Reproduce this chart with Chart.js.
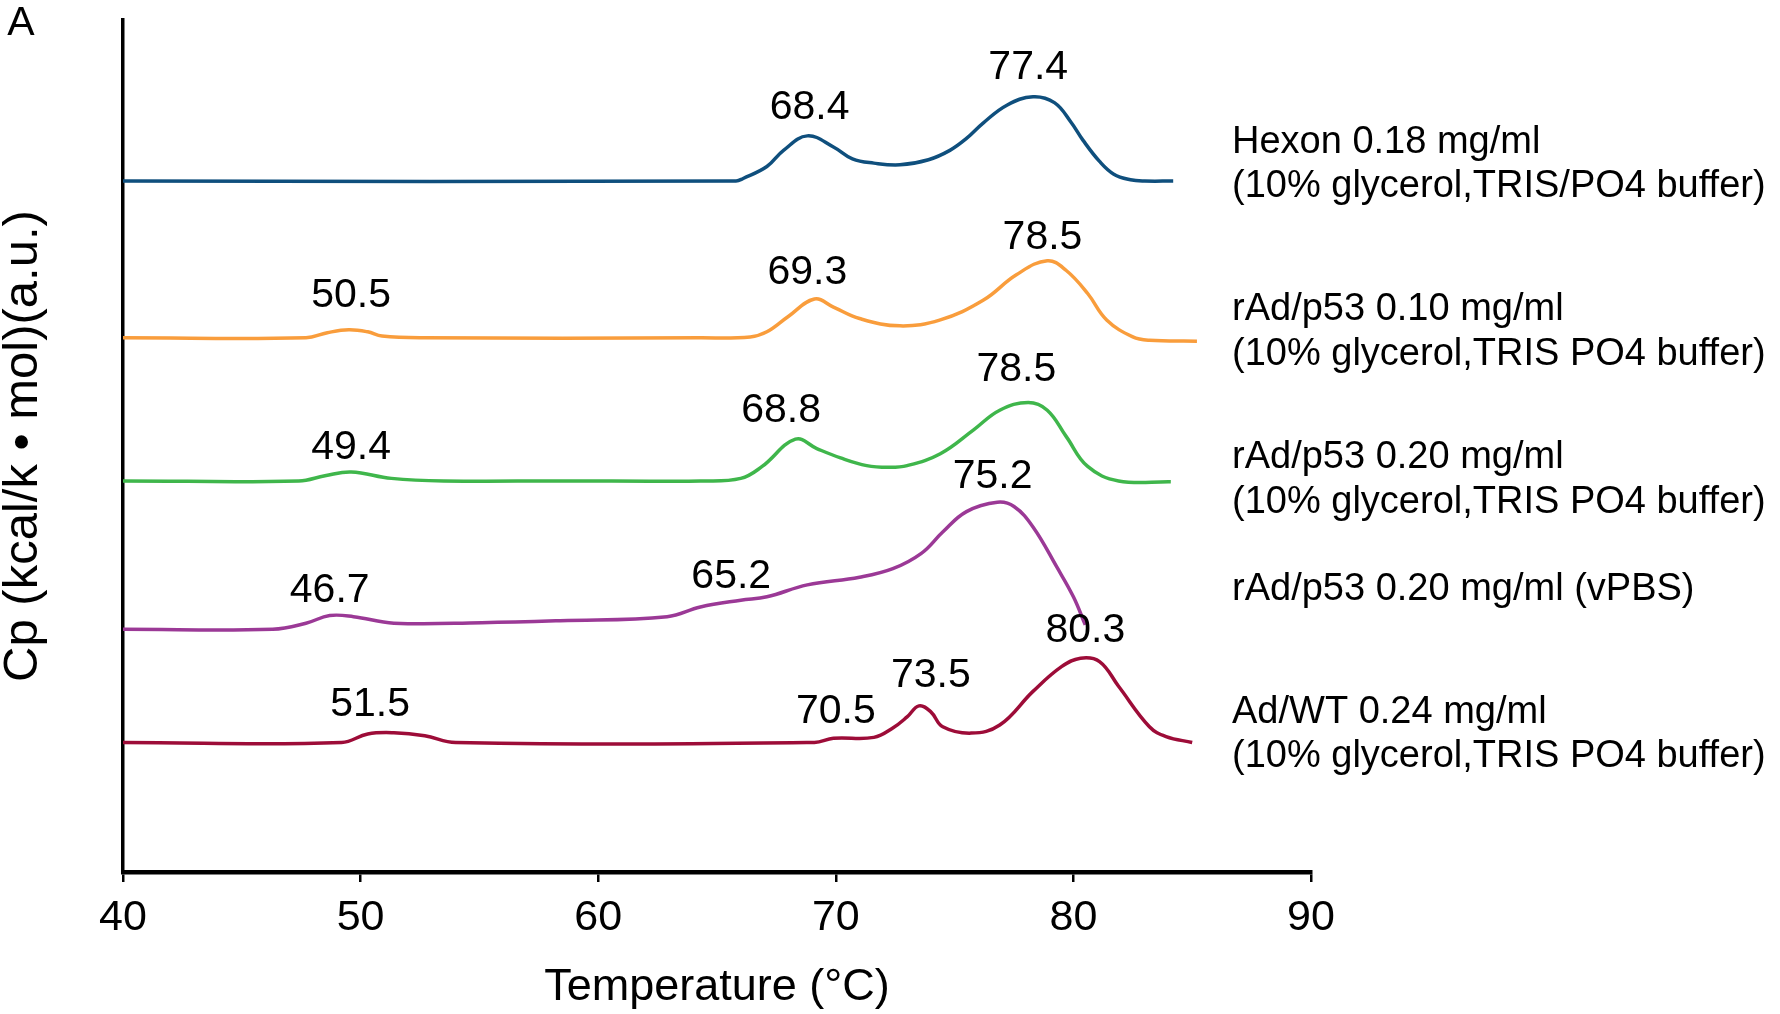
<!DOCTYPE html>
<html>
  <head>
    <meta charset="utf-8" />
    <title>DSC thermograms</title>
    <script src="https://cdn.jsdelivr.net/npm/chart.js@4.4.1/dist/chart.umd.min.js"></script>
    <style>
      html, body { margin: 0; padding: 0; background: #fff; }
      #wrap { width: 1780px; height: 1014px; position: relative; }
    </style>
  </head>
  <body>
    <div id="wrap"><canvas id="chart"></canvas></div>
    <script>
      // temperature (°C) and Cp (a.u., traces stacked with offsets)
      const hexonT = [40, 65.8, 66.1, 67.1, 67.8, 68.8, 69.9, 70.7, 71.6, 72.7, 73.9, 74.8, 75.5, 76.2, 77.2, 78.3, 79.2, 79.9, 80.4, 81.1, 81.7, 82.4, 83.0, 84.2];
      const hexonCp = [81.1, 81.1, 81.4, 82.8, 84.7, 86.4, 85.1, 83.7, 83.2, 83.0, 83.6, 84.7, 86.1, 87.9, 90.0, 91.0, 90.3, 88.0, 85.9, 83.4, 81.9, 81.25, 81.1, 81.1];

      const p53LowT = [40, 47.7, 48.6, 49.5, 50.3, 50.9, 52.7, 64.3, 66.4, 67.1, 68.0, 69.1, 69.9, 71.0, 72.7, 74.4, 76.2, 77.6, 78.9, 79.7, 80.6, 81.4, 82.5, 83.2, 85.2];
      const p53LowCp = [62.7, 62.7, 63.3, 63.65, 63.4, 62.9, 62.7, 62.7, 62.8, 63.4, 65.2, 67.25, 66.3, 64.96, 64.1, 64.8, 67.1, 70.1, 71.75, 70.6, 67.9, 64.8, 62.8, 62.4, 62.3];

      const p53HighT = [40, 47.4, 48.5, 49.6, 51.3, 53.5, 58.4, 64.3, 66.0, 66.9, 68.3, 69.2, 70.2, 71.3, 72.2, 73.0, 74.4, 75.8, 76.9, 78.1, 78.9, 79.7, 80.6, 81.9, 84.1];
      const p53HighCp = [45.9, 45.9, 46.5, 46.95, 46.2, 45.9, 45.9, 45.9, 46.2, 47.6, 50.8, 49.7, 48.6, 47.7, 47.5, 47.7, 49.1, 51.9, 54.2, 55.1, 54.2, 51.1, 47.6, 45.9, 45.8];

      const p53PbsT = [40, 46.3, 47.7, 48.7, 49.7, 51.4, 55.1, 58.4, 62.9, 64.3, 66.0, 67.1, 68.8, 71.0, 72.4, 73.6, 74.5, 75.5, 76.8, 77.5, 78.3, 79.3, 80.0, 80.5];
      const p53PbsCp = [28.5, 28.5, 29.2, 30.1, 29.97, 29.2, 29.26, 29.5, 29.97, 31.1, 31.9, 32.3, 33.7, 34.6, 35.6, 37.4, 39.9, 42.3, 43.4, 42.9, 40.5, 35.8, 32.3, 29.0];

      const adWtT = [40, 49.2, 50.3, 51.4, 52.7, 54.0, 69.1, 69.9, 71.6, 72.4, 73.0, 73.5, 74.0, 74.5, 75.7, 76.9, 78.3, 79.5, 80.3, 81.1, 81.9, 83.2, 83.9, 85.0];
      const adWtCp = [15.2, 15.2, 16.2, 16.35, 16.0, 15.2, 15.2, 15.7, 15.8, 16.9, 18.2, 19.5, 18.8, 17.05, 16.3, 17.25, 21.2, 24.1, 25.1, 24.7, 21.8, 17.05, 15.9, 15.2];

      const seriesNames = [
        ["Hexon 0.18 mg/ml", "(10% glycerol,TRIS/PO4 buffer)"],
        ["rAd/p53 0.10 mg/ml", "(10% glycerol,TRIS PO4 buffer)"],
        ["rAd/p53 0.20 mg/ml", "(10% glycerol,TRIS PO4 buffer)"],
        ["rAd/p53 0.20 mg/ml (vPBS)"],
        ["Ad/WT 0.24 mg/ml", "(10% glycerol,TRIS PO4 buffer)"],
      ];
      const seriesColors = ["#0f4f7d", "#f99d3c", "#3fb64b", "#9b3996", "#9d0c38"];

      // peak temperatures written on the plot, with their anchor in data units
      const peakText = ["68.4", "77.4", "50.5", "69.3", "78.5", "49.4", "68.8", "78.5", "46.7", "65.2", "75.2", "51.5", "70.5", "73.5", "80.3"];
      const peakAtT = [68.9, 78.1, 49.6, 68.8, 78.7, 49.6, 67.7, 77.6, 48.7, 65.6, 76.6, 50.4, 70.0, 74.0, 80.5];
      const peakAtCp = [89.7, 94.4, 67.6, 70.4, 74.4, 49.8, 54.2, 58.9, 33.0, 34.7, 46.4, 19.6, 18.8, 23.1, 28.3];

      const xTicks = [40, 50, 60, 70, 80, 90];

      const FONT = "'Liberation Sans', Arial, sans-serif";

      function toPoints(ts, cps) {
        return ts.map((t, i) => ({ x: t, y: cps[i] }));
      }

      const traces = [
        toPoints(hexonT, hexonCp),
        toPoints(p53LowT, p53LowCp),
        toPoints(p53HighT, p53HighCp),
        toPoints(p53PbsT, p53PbsCp),
        toPoints(adWtT, adWtCp),
      ];

      // legend rows sit at these heights (a.u.) to the right of the plot
      const legendRowCp = [[85.6, 80.4], [66.0, 60.7], [48.7, 43.4], [33.2], [18.7, 13.5]];

      const textPlugin = {
        id: "texts",
        afterDatasetsDraw(chart) {
          const { ctx, chartArea } = chart;
          const xs = chart.scales.x;
          const ys = chart.scales.y;
          ctx.save();
          ctx.fillStyle = "#000";
          ctx.textBaseline = "middle";

          ctx.font = "41px " + FONT;
          ctx.textAlign = "center";
          peakText.forEach((txt, i) => {
            ctx.fillText(txt, xs.getPixelForValue(peakAtT[i]), ys.getPixelForValue(peakAtCp[i]));
          });

          ctx.font = "38px " + FONT;
          ctx.textAlign = "left";
          const lx = chartArea.right - 79;
          seriesNames.forEach((lines, i) => {
            lines.forEach((line, j) => {
              ctx.fillText(line, lx, ys.getPixelForValue(legendRowCp[i][j]));
            });
          });

          ctx.font = "41px " + FONT;
          ctx.textAlign = "center";
          ctx.fillText("A", 21, 24);
          ctx.restore();
        },
      };

      new Chart(document.getElementById("chart"), {
        type: "line",
        data: {
          datasets: traces.map((pts, i) => ({
            label: seriesNames[i].join(" "),
            data: pts,
            borderColor: seriesColors[i],
            borderWidth: 3.5,
            pointRadius: 0,
            fill: false,
            tension: 0.4,
          })),
        },
        options: {
          responsive: true,
          maintainAspectRatio: false,
          animation: false,
          devicePixelRatio: 1,
          layout: { padding: { top: 20, right: 469, left: 0, bottom: 0 } },
          plugins: {
            legend: { display: false },
            tooltip: { enabled: false },
          },
          scales: {
            x: {
              type: "linear",
              min: 40,
              max: 90,
              afterBuildTicks: (s) => { s.ticks = xTicks.map((v) => ({ value: v })); },
              afterFit: (s) => { s.height = 142; },
              grid: {
                display: true,
                drawOnChartArea: false,
                drawTicks: true,
                tickLength: 10,
                lineWidth: 2.5,
                color: "#000",
              },
              border: { display: true, color: "#000", width: 4.5 },
              ticks: {
                color: "#000",
                padding: 10,
                maxRotation: 0,
                font: { family: FONT, size: 43 },
              },
              title: {
                display: true,
                text: "Temperature (°C)",
                color: "#000",
                padding: { top: 0, bottom: 1 },
                font: { family: FONT, size: 45, lineHeight: 1.15 },
              },
            },
            y: {
              type: "linear",
              min: 0,
              max: 100,
              afterFit: (s) => { s.width = 123; },
              grid: { display: false },
              border: { display: true, color: "#000", width: 3.5 },
              ticks: { display: false },
              title: {
                display: true,
                text: "Cp (kcal/k • mol)(a.u.)",
                color: "#000",
                padding: { top: 0, bottom: 0 },
                font: { family: FONT, size: 49, lineHeight: 0.95 },
              },
            },
          },
        },
        plugins: [textPlugin],
      });
    </script>
  </body>
</html>
